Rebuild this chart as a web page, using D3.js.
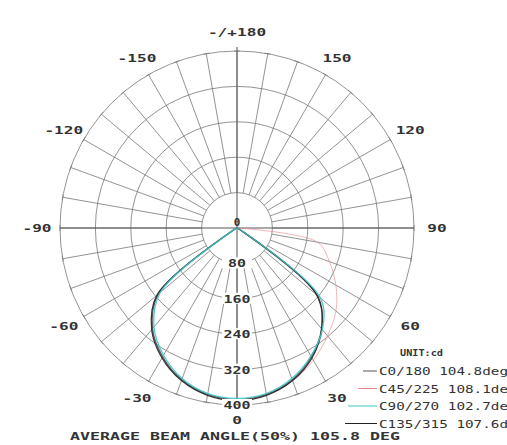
<!DOCTYPE html>
<html>
<head>
<meta charset="utf-8">
<script src="https://cdn.jsdelivr.net/npm/d3@7"></script>
<style>
  body { margin: 0; background: #fff; }
  text { font-family: "DejaVu Sans Mono", "Liberation Mono", monospace; fill: #333; }
</style>
</head>
<body>
<div id="chart"></div>
<script>
// polar candela curve, 0 deg at the bottom
var angles = [-90, -80, -70, -60, -50, -40, -30, -20, -10, 0, 10, 20, 30, 40, 50, 60, 70, 80, 90];
var c0_180   = [0, 0, 0, 8, 232, 297, 336, 365, 382, 388, 382, 365, 336, 297, 235, 10, 0, 0, 0];
var c45_225  = [0, 0, 0, 8, 232, 297, 336, 365, 382, 388, 383, 368, 345, 318, 292, 258, 222, 185, 0];
var c90_270  = [0, 0, 0, 6, 226, 292, 332, 362, 380, 385, 380, 362, 334, 300, 246, 14, 0, 0, 0];
var c135_315 = [0, 0, 0, 9, 236, 300, 339, 367, 384, 390, 384, 367, 339, 298, 236, 10, 0, 0, 0];

var rings = [80, 160, 240, 320, 400];
var angleTicks = [-150, -120, -90, -60, -30, 0, 30, 60, 90, 120, 150, 180];
var angleText = ["-150", "-120", "-90", "-60", "-30", "0", "30", "60", "90", "120", "150", "-/+180"];

var legendNames = ["C0/180 104.8deg", "C45/225 108.1deg", "C90/270 102.7deg", "C135/315 107.6deg"];
var legendColors = ["#555", "#e98a8a", "#3fc4c8", "#222"];
var seriesList = [c0_180, c45_225, c90_270, c135_315];
var drawOrder = [1, 0, 3, 2];

var width = 507, height = 445;
var cx = 237, cy = 228, R = 177;

var svg = d3.select("#chart")
    .append("svg")
    .attr("width", width)
    .attr("height", height);

var r = d3.scaleLinear().domain([0, 400]).range([0, R]);
var rad = function(a) { return a * Math.PI / 180; };

var g = svg.append("g").attr("transform", "translate(" + cx + "," + cy + ")");

// grid circles
g.selectAll("circle.ring")
    .data(rings)
    .enter()
    .append("circle")
    .attr("class", "ring")
    .attr("r", function(d) { return r(d); })
    .attr("fill", "none")
    .attr("stroke", "#777")
    .attr("stroke-width", 0.8);

// spokes every 10 deg
var spokes = d3.range(-170, 190, 10);
g.selectAll("line.spoke")
    .data(spokes)
    .enter()
    .append("line")
    .attr("class", "spoke")
    .attr("x1", function(d) { return r(80) * Math.sin(rad(d)); })
    .attr("y1", function(d) { return r(80) * Math.cos(rad(d)); })
    .attr("x2", function(d) { return R * Math.sin(rad(d)); })
    .attr("y2", function(d) { return R * Math.cos(rad(d)); })
    .attr("stroke", "#777")
    .attr("stroke-width", 0.8);

// small ticks at spoke ends
g.selectAll("line.tick")
    .data(spokes)
    .enter()
    .append("line")
    .attr("class", "tick")
    .attr("x1", function(d) { return R * Math.sin(rad(d)) + 3 * Math.cos(rad(d)); })
    .attr("y1", function(d) { return R * Math.cos(rad(d)) - 3 * Math.sin(rad(d)); })
    .attr("x2", function(d) { return R * Math.sin(rad(d)) - 3 * Math.cos(rad(d)); })
    .attr("y2", function(d) { return R * Math.cos(rad(d)) + 3 * Math.sin(rad(d)); })
    .attr("stroke", "#777")
    .attr("stroke-width", 0.8);

// main axes
g.append("line")
    .attr("x1", -R).attr("y1", 0).attr("x2", R).attr("y2", 0)
    .attr("stroke", "#555").attr("stroke-width", 1);
g.append("line")
    .attr("x1", 0).attr("y1", -R - 4).attr("x2", 0).attr("y2", R + 4)
    .attr("stroke", "#555").attr("stroke-width", 1);

// curves
var radial = d3.lineRadial()
    .angle(function(d) { return Math.PI - rad(d[0]); })
    .radius(function(d) { return r(d[1]); })
    .curve(d3.curveCatmullRom);

drawOrder.forEach(function(i) {
    var s = seriesList[i];
    g.append("path")
        .datum(angles.map(function(a, j) { return [a, s[j]]; }))
        .attr("d", radial)
        .attr("fill", "none")
        .attr("stroke", legendColors[i])
        .attr("stroke-width", i == 1 ? 0.8 : 1.3)
        .attr("opacity", i == 1 ? 0.8 : 0.9);
});

// ring labels on the lower axis
var rl = g.selectAll("g.rl")
    .data(rings)
    .enter()
    .append("g")
    .attr("class", "rl")
    .attr("transform", function(d) { return "translate(0," + r(d) + ")"; });
rl.append("rect")
    .attr("x", -15).attr("y", -6).attr("width", 30).attr("height", 11)
    .attr("fill", "#fff");
rl.append("text")
    .attr("text-anchor", "middle")
    .attr("dy", 4)
    .attr("font-size", 11)
    .attr("font-weight", "bold")
    .attr("textLength", function(d) { return String(d).length * 9; })
    .attr("lengthAdjust", "spacingAndGlyphs")
    .text(function(d) { return d; });
g.append("text")
    .attr("text-anchor", "middle")
    .attr("y", -2)
    .attr("font-size", 11)
    .attr("font-weight", "bold")
    .text("0");

// angle labels
g.selectAll("text.al")
    .data(angleTicks)
    .enter()
    .append("text")
    .attr("class", "al")
    .attr("text-anchor", "middle")
    .attr("font-size", 11)
    .attr("font-weight", "bold")
    .attr("x", function(d) { return 200 * Math.sin(rad(d)); })
    .attr("y", function(d, i) { return (d == 0 ? 192 : 196) * Math.cos(rad(d)) + 4; })
    .attr("textLength", function(d, i) { return angleText[i].length * 9.7; })
    .attr("lengthAdjust", "spacingAndGlyphs")
    .text(function(d, i) { return angleText[i]; });

// legend
var leg = svg.append("g");
leg.append("text")
    .attr("x", 400).attr("y", 356)
    .attr("font-size", 9)
    .attr("font-weight", "bold")
    .attr("textLength", 43)
    .attr("lengthAdjust", "spacingAndGlyphs")
    .text("UNIT:cd");
var legStart = [363, 358, 348, 345];
legendNames.forEach(function(n, i) {
    var y = 375 + i * 17.5;
    leg.append("line")
        .attr("x1", legStart[i]).attr("x2", 377)
        .attr("y1", y - 4).attr("y2", y - 4)
        .attr("stroke", legendColors[i]).attr("stroke-width", 1);
    leg.append("text")
        .attr("x", 379).attr("y", y)
        .attr("font-size", 10)
        .attr("textLength", n.length * 8.6)
        .attr("lengthAdjust", "spacingAndGlyphs")
        .text(n);
});

// title
svg.append("text")
    .attr("x", 70).attr("y", 440)
    .attr("font-size", 11)
    .attr("font-weight", "bold")
    .attr("textLength", 330)
    .attr("lengthAdjust", "spacingAndGlyphs")
    .text("AVERAGE BEAM ANGLE(50%) 105.8 DEG");
</script>
</body>
</html>
